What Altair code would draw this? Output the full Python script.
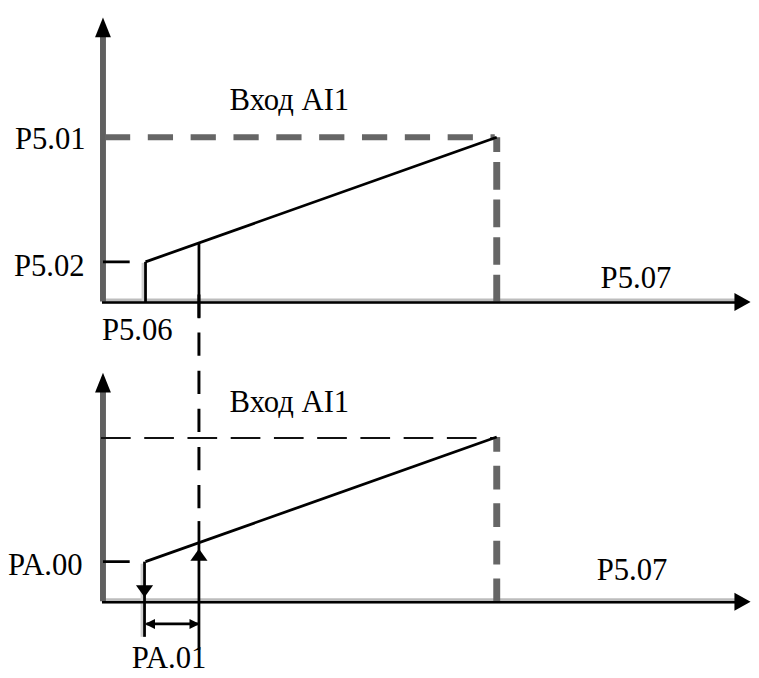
import altair as alt
import pandas as pd

# Diagram grid (reference layout units): x to the right, y downward
X0, X1 = 8, 759
Y0, Y1 = 8, 678
W, H = X1 - X0, Y1 - Y0

xs = alt.Scale(domain=[X0, X1], nice=False, zero=False)
ys = alt.Scale(domain=[Y0, Y1], reverse=True, nice=False, zero=False)

# ---- segments (x, y, x2, y2) ----
y_axes = [(104, 301, 104, 30), (104, 604, 104, 390)]
x_axis_shadow = [(103, 300.5, 745, 300.5), (103, 603.5, 745, 603.5)]
x_axes = [(103, 302, 745, 302), (103, 605, 745, 605)]
line_shadow = [(144.5, 262, 144.5, 301), (143.5, 566, 143.5, 604), (143.5, 606, 143.5, 640)]
solid_black = [
    (147, 261, 502, 135),   # ramp, upper panel
    (147, 261, 147, 302),   # P5.06 riser
    (201, 242, 201, 318),   # riser at chosen input
    (104, 261, 131, 261),   # P5.02 tick
    (147, 564, 502, 438),   # ramp, lower panel
    (146, 564, 146, 640),   # PA.00 riser + extension
    (201, 523, 201, 653),   # riser + extension
    (104, 564, 131, 564),   # PA.00 tick
    (148, 627, 200, 627),   # PA.01 dimension
]
gray_dash_h = [(106, 135, 500, 135)]
gray_dash_v_top = [(502, 135, 502, 301)]
gray_dash_v_low = [(502, 438, 502, 604)]
thin_dash_h = [(102, 439, 500, 439)]
connector_dash = [(201, 294, 201, 523)]

# ---- arrow heads (x, y) ----
arrows_up_big = [(104, 24), (104, 383)]
arrows_right_big = [(749.5, 301.5), (749.5, 604.5)]
arrows_down_small = [(146, 594)]
arrows_up_small = [(201, 557)]
arrows_left_tiny = [(152, 627)]
arrows_right_tiny = [(196, 627)]

# ---- labels ----
labels = ["P5.01", "P5.02", "P5.06", "Вход AI1", "P5.07",
          "Вход AI1", "PA.00", "PA.01", "P5.07"]
label_x = [15, 14, 103, 232, 607, 232, 8, 133, 603]
label_y = [147, 275, 340, 107, 287, 413, 578, 671, 583]

SERIF = "Liberation Serif, DejaVu Serif, Times New Roman, serif"


def enc(ch):
    return ch.encode(
        x=alt.X("x:Q", scale=xs, axis=None),
        y=alt.Y("y:Q", scale=ys, axis=None),
    )


def seg_layer(segs, color, width, dash=None, offset=None):
    df = pd.DataFrame(segs, columns=["x", "y", "x2", "y2"])
    kw = dict(color=color, strokeWidth=width, strokeCap="butt", opacity=1)
    if dash is not None:
        kw["strokeDash"] = dash
    if offset is not None:
        kw["strokeDashOffset"] = offset
    return alt.Chart(df).mark_rule(**kw).encode(
        x=alt.X("x:Q", scale=xs, axis=None),
        y=alt.Y("y:Q", scale=ys, axis=None),
        x2="x2:Q",
        y2="y2:Q",
    )


def tri_layer(pts, shape, size):
    df = pd.DataFrame(pts, columns=["x", "y"])
    return enc(alt.Chart(df).mark_point(
        shape=shape, size=size, filled=True, color="black",
        opacity=1, strokeWidth=0))


UP = "M0,-1L0.8,1L-0.8,1Z"
RIGHT = "M1,0L-0.8,1L-0.8,-1Z"
DOWN_S = "M0,0.7L1,-0.7L-1,-0.7Z"
UP_S = "M0,-0.7L1,0.7L-1,0.7Z"
LEFT_T = "M-1,0L0.8,-0.9L0.8,0.9Z"
RIGHT_T = "M1,0L-0.8,-0.9L-0.8,0.9Z"

text_df = pd.DataFrame({"x": label_x, "y": label_y, "label": labels})
texts = enc(alt.Chart(text_df).mark_text(
    font=SERIF, fontSize=31, align="left",
    baseline="alphabetic", color="black")).encode(text="label:N")

chart = alt.layer(
    seg_layer(x_axis_shadow, "#bdbdbd", 5),
    seg_layer(line_shadow, "#d0d0d0", 3),
    seg_layer(y_axes, "#606060", 6),
    seg_layer(gray_dash_h, "#666666", 6, dash=[25.5, 17.8]),
    seg_layer(gray_dash_v_top, "#666666", 7, dash=[28, 10], offset=13),
    seg_layer(gray_dash_v_low, "#666666", 7, dash=[24, 14], offset=9),
    seg_layer(thin_dash_h, "#111111", 2, dash=[30, 13.7]),
    seg_layer(connector_dash, "#000000", 3, dash=[23.5, 15]),
    seg_layer(x_axes, "#000000", 2.5),
    seg_layer(solid_black, "#000000", 2.8),
    tri_layer(arrows_up_big, UP, 400),
    tri_layer(arrows_right_big, RIGHT, 330),
    tri_layer(arrows_down_small, DOWN_S, 300),
    tri_layer(arrows_up_small, UP_S, 300),
    tri_layer(arrows_left_tiny, LEFT_T, 130),
    tri_layer(arrows_right_tiny, RIGHT_T, 130),
    texts,
).properties(
    width=W, height=H, padding=0,
    autosize=alt.AutoSizeParams(type="none"),
    background="white",
).configure_view(stroke=None)

chart.save("out.html", embed_options={"renderer": "svg", "actions": False})
